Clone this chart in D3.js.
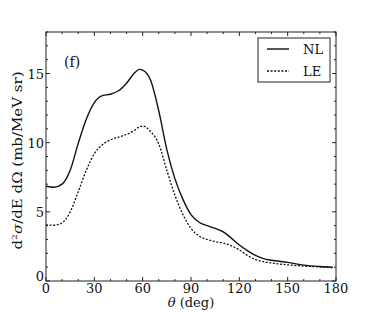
<!DOCTYPE html>
<html>
<head>
<meta charset="utf-8">
<script src="https://cdn.jsdelivr.net/npm/d3@7"></script>
<style>
  body { margin: 0; background: #fff; }
</style>
</head>
<body>
<div id="chart"></div>
<script>
// Scattering angle (deg) and cross sections (mb/MeV sr)
var angles = [0, 5, 10, 15, 20, 25, 30, 35, 40, 45, 50, 55, 58, 60, 65, 70, 75, 80, 85, 90,
              95, 100, 105, 110, 115, 120, 125, 130, 135, 140, 150, 160, 170, 178];
var nlValues = [6.85, 6.78, 7.0, 8.0, 9.95, 11.7, 12.9, 13.4, 13.5, 13.75, 14.3, 15.05, 15.3, 15.25,
                14.5, 12.3, 9.5, 7.4, 5.9, 4.8, 4.25, 4.0, 3.8, 3.55, 3.1, 2.6, 2.2, 1.85, 1.62, 1.5,
                1.35, 1.15, 1.05, 1.0];
var leValues = [4.05, 4.03, 4.2, 5.0, 6.45, 8.0, 9.2, 9.85, 10.2, 10.4, 10.6, 10.9, 11.15, 11.2,
                10.8, 9.9, 8.0, 6.2, 4.8, 3.8, 3.25, 3.0, 2.85, 2.75, 2.55, 2.25, 1.85, 1.55, 1.4, 1.3,
                1.17, 1.08, 1.02, 0.96];
var xTicks = [0, 30, 60, 90, 120, 150, 180];
var yTicks = [0, 5, 10, 15];
var seriesNames = ["NL", "LE"];

var width = 374, height = 312;
var margin = {left: 46, right: 38, top: 32, bottom: 31};

var svg = d3.select("#chart").append("svg")
    .attr("width", width)
    .attr("height", height)
    .attr("font-family", "'DejaVu Serif', 'Liberation Serif', serif")
    .attr("fill", "#111");

var x = d3.scaleLinear().domain([0, 180]).range([margin.left, width - margin.right]);
var y = d3.scaleLinear().domain([0, 18]).range([height - margin.bottom, margin.top]);

// frame
svg.append("rect")
    .attr("x", x(0)).attr("y", y(18))
    .attr("width", x(180) - x(0)).attr("height", y(0) - y(18))
    .attr("fill", "none").attr("stroke", "#222").attr("stroke-width", 1);

// inward ticks on all four sides
var g = svg.append("g").attr("stroke", "#222").attr("stroke-width", 1);
d3.range(0, 181, 10).forEach(function (t) {
    var len = t % 30 === 0 ? 4 : 2;
    g.append("line").attr("x1", x(t)).attr("x2", x(t)).attr("y1", y(0)).attr("y2", y(0) - len);
    g.append("line").attr("x1", x(t)).attr("x2", x(t)).attr("y1", y(18)).attr("y2", y(18) + len);
});
d3.range(0, 19, 1).forEach(function (v) {
    var len = v % 5 === 0 ? 4 : 2;
    g.append("line").attr("y1", y(v)).attr("y2", y(v)).attr("x1", x(0)).attr("x2", x(0) + len);
    g.append("line").attr("y1", y(v)).attr("y2", y(v)).attr("x1", x(180)).attr("x2", x(180) - len);
});

// tick labels
svg.selectAll(".xt").data(xTicks).enter().append("text")
    .attr("x", function (d) { return x(d); })
    .attr("y", y(0) + 12)
    .attr("text-anchor", "middle")
    .attr("font-size", 13)
    .text(function (d) { return d; });
svg.selectAll(".yt").data(yTicks).enter().append("text")
    .attr("x", x(0) - 2)
    .attr("y", function (d) { return y(d) + (d === 0 ? 0 : 5); })
    .attr("text-anchor", "end")
    .attr("font-size", 13)
    .text(function (d) { return d; });

// axis titles
svg.append("text")
    .attr("x", (x(0) + x(180)) / 2).attr("y", 307)
    .attr("text-anchor", "middle").attr("font-size", 13)
    .html('<tspan font-style="italic">θ</tspan> (deg)');
svg.append("text")
    .attr("transform", "translate(22," + ((y(0) + y(18)) / 2 + 4) + ") rotate(-90)")
    .attr("text-anchor", "middle").attr("font-size", 13)
    .attr("textLength", 178).attr("lengthAdjust", "spacingAndGlyphs")
    .html('d<tspan dy="-5" font-size="8">2</tspan><tspan dy="5" font-style="italic">σ</tspan>/dE dΩ (mb/MeV sr)');

svg.append("text").attr("x", 64).attr("y", 67).attr("font-size", 14).text("(f)");

// curves
var line = d3.line()
    .x(function (d) { return x(d[0]); })
    .y(function (d) { return y(d[1]); })
    .curve(d3.curveMonotoneX);

svg.append("path")
    .datum(d3.zip(angles, nlValues))
    .attr("d", line)
    .attr("fill", "none").attr("stroke", "#111").attr("stroke-width", 1.4);
svg.append("path")
    .datum(d3.zip(angles, leValues))
    .attr("d", line)
    .attr("fill", "none").attr("stroke", "#111").attr("stroke-width", 1.3)
    .attr("stroke-dasharray", "2,1.6");

// legend
var lg = svg.append("g");
lg.append("rect").attr("x", 258).attr("y", 38).attr("width", 72).attr("height", 44)
    .attr("fill", "#fff").attr("stroke", "#222").attr("stroke-width", 1);
seriesNames.forEach(function (name, i) {
    var ly = 49 + i * 22;
    lg.append("line").attr("x1", 267).attr("x2", 289).attr("y1", ly).attr("y2", ly)
        .attr("stroke", "#111").attr("stroke-width", i === 0 ? 1.4 : 1.3)
        .attr("stroke-dasharray", i === 0 ? null : "2,1.6");
    lg.append("text").attr("x", 303).attr("y", ly + 5).attr("font-size", 13).text(name);
});
</script>
</body>
</html>
